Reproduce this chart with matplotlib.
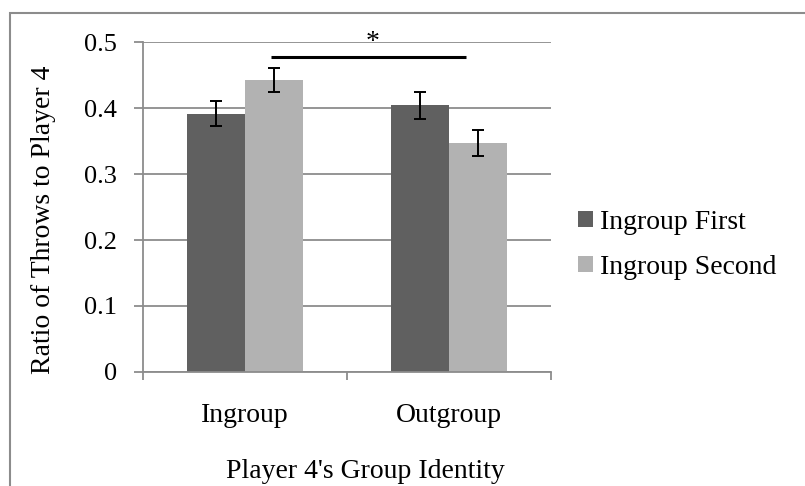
import numpy as np
import matplotlib
matplotlib.use("Agg")
import matplotlib.pyplot as plt
from matplotlib.patches import Rectangle

# data
groups = ["Ingroup", "Outgroup"]
series = ["Ingroup First", "Ingroup Second"]
first_vals = [0.391, 0.404]
second_vals = [0.443, 0.347]
first_err = [0.019, 0.020]
second_err = [0.018, 0.019]
y_ticks = [0, 0.1, 0.2, 0.3, 0.4, 0.5]
y_ticklabels = ["0", "0.1", "0.2", "0.3", "0.4", "0.5"]

plt.rcParams['font.family'] = ['Liberation Serif', 'DejaVu Serif']

W, H = 805, 486
fig = plt.figure(figsize=(W / 100, H / 100), dpi=100)
ax = fig.add_axes([143 / W, 1 - 372 / H, (551 - 143) / W, (372 - 42) / H])

dark = "#606060"
light = "#b2b2b2"
grey = "#8c8c8c"

x = np.arange(len(groups))
bw = 0.285
ek = dict(ecolor="black", elinewidth=1.4, capsize=4.5, capthick=1.4)
ax.bar(x - bw / 2, first_vals, bw, color=dark, yerr=first_err,
       error_kw=ek, label=series[0], zorder=2)
ax.bar(x + bw / 2, second_vals, bw, color=light, yerr=second_err,
       error_kw=ek, label=series[1], zorder=2)

ax.set_xlim(-0.5, 1.5)
ax.set_ylim(0, 0.5)
ax.set_yticks(y_ticks)
ax.set_yticklabels(y_ticklabels, fontsize=19)
ax.set_xticks(x)
ax.set_xticklabels(groups, fontsize=20)
ax.set_xticks([-0.5, 0.5, 1.5], minor=True)
ax.tick_params(axis="x", which="major", length=0, pad=22)
ax.tick_params(axis="x", which="minor", length=6, width=1.3, color=grey)
ax.tick_params(axis="y", length=6.5, width=1.3, color=grey, pad=12)

ax.set_axisbelow(True)
ax.yaxis.grid(True, color=grey, linewidth=1.3)
for s in ["top", "right"]:
    ax.spines[s].set_visible(False)
for s in ["left", "bottom"]:
    ax.spines[s].set_color(grey)
    ax.spines[s].set_linewidth(1.3)

# significance bar
ax.plot([0.125, 1.085], [0.477, 0.477], color="black", lw=2.2,
        clip_on=False, solid_capstyle="butt")
ax.text(0.623, 0.49, "*", fontsize=20, ha="center", va="baseline")

fig.text(44 / W, 1 - 220 / H, "Ratio of Throws to Player 4", rotation=90,
         fontsize=20, ha="center", va="center")
fig.text(365 / W, 1 - 471 / H, "Player 4's Group Identity",
         fontsize=20, ha="center", va="center")

ax.legend(loc="center left", bbox_to_anchor=(578 / W, 1 - 245 / H),
          bbox_transform=fig.transFigure, frameon=False, fontsize=20,
          handlelength=0.54, handleheight=0.54, handletextpad=0.25,
          labelspacing=0.72, borderpad=0, borderaxespad=0)

# chart border (runs off the right and bottom edges)
fig.patches.append(Rectangle((10 / W, -0.1), 1.2, 1 - 13 / H + 0.1,
                             transform=fig.transFigure, fill=False,
                             edgecolor=grey, linewidth=1.5))

fig.savefig("out.png", dpi=100)
